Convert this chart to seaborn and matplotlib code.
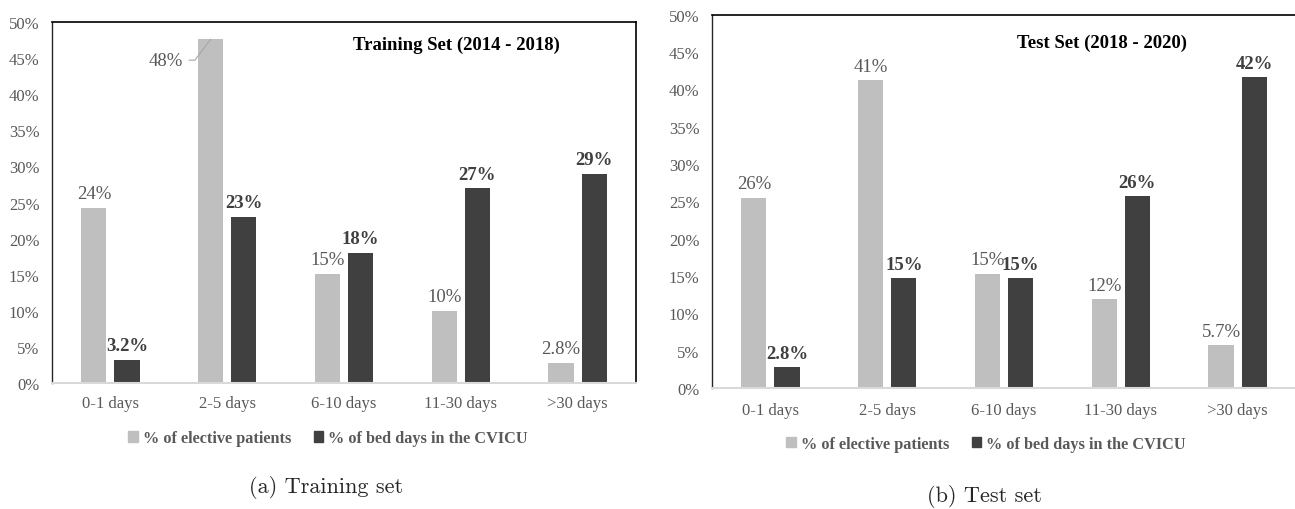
import matplotlib
matplotlib.use("Agg")
import matplotlib.pyplot as plt
import seaborn as sns
import pandas as pd
from matplotlib.patches import Patch

# ---------------- data ----------------
categories = ["0-1 days", "2-5 days", "6-10 days", "11-30 days", ">30 days"]
series_names = ["% of elective patients", "% of bed days in the CVICU"]
train_elective = [24.3, 47.6, 15.1, 10.0, 2.8]
train_beddays = [3.2, 23.0, 18.0, 27.0, 29.0]
test_elective = [25.5, 41.2, 15.3, 11.9, 5.7]
test_beddays = [2.8, 14.7, 14.7, 25.7, 41.6]
yticks = [0, 5, 10, 15, 20, 25, 30, 35, 40, 45, 50]
titles = ["Training Set (2014 - 2018)", "Test Set (2018 - 2020)"]
captions = ["(a) Training set", "(b) Test set"]

LIGHT = "#bfbfbf"
DARK = "#404040"
GRAY_TXT = "#595959"

sns.set_style("white")
plt.rcParams["font.family"] = ["Liberation Serif", "DejaVu Serif"]

fig = plt.figure(figsize=(12.95, 5.10), dpi=100)
axL = fig.add_axes([52 / 1295, (510 - 384) / 510, 584 / 1295, 361 / 510])
axR = fig.add_axes([712 / 1295, (510 - 389) / 510, 584 / 1295, 373.3 / 510])


def fmt(v):
    return f"{v:.1f}%" if v < 10 else f"{v:.0f}%"


def draw(ax, elective, beddays, title, title_xy, legend_xy, xpad, leader_idx=None):
    df = pd.DataFrame({
        "cat": categories * 2,
        "val": elective + beddays,
        "series": [series_names[0]] * len(categories) + [series_names[1]] * len(categories),
    })
    sns.barplot(data=df, x="cat", y="val", hue="series", order=categories,
                hue_order=series_names, palette=[LIGHT, DARK], width=0.567, gap=0.24,
                linewidth=0, saturation=1, legend=False, errorbar=None, ax=ax)
    ax.set_xlim(-0.5, len(categories) - 0.5)
    ax.set_ylim(0, 50)
    ax.set_yticks(yticks)
    ax.set_yticklabels([f"{t}%" for t in yticks])
    ax.set_xlabel("")
    ax.set_ylabel("")
    ax.tick_params(axis="both", length=0, labelsize=12, colors=GRAY_TXT)
    ax.tick_params(axis="y", pad=9)
    ax.tick_params(axis="x", pad=xpad)

    for s in ["top", "right"]:
        ax.spines[s].set_color("black")
        ax.spines[s].set_linewidth(1.2)
    ax.spines["left"].set_color("#262626")
    ax.spines["left"].set_linewidth(1.0)
    ax.spines["bottom"].set_color("#d9d9d9")
    ax.spines["bottom"].set_linewidth(1.5)

    c0, c1 = ax.containers[0], ax.containers[1]
    labels0 = [fmt(v) for v in elective]
    if leader_idx is not None:
        labels0[leader_idx] = ""
    ax.bar_label(c0, labels=labels0, padding=4, fontsize=13.5, color=GRAY_TXT)
    ax.bar_label(c1, labels=[fmt(v) for v in beddays], padding=4, fontsize=13.5,
                 color=DARK, fontweight="bold")
    if leader_idx is not None:
        bar = c0[leader_idx]
        bx = bar.get_x() + bar.get_width() / 2
        by = bar.get_height()
        ax.annotate(fmt(elective[leader_idx]), xy=(bx, by), xytext=(-20, -15),
                    textcoords="offset points", ha="right", va="center",
                    fontsize=13.5, color=GRAY_TXT,
                    arrowprops=dict(arrowstyle="-", color="#a6a6a6", lw=0.8,
                                    shrinkA=2, shrinkB=0, relpos=(1, 0.5),
                                    connectionstyle="angle,angleA=0,angleB=53,rad=0"))

    ax.text(title_xy[0], title_xy[1], title, transform=ax.transAxes, ha="center",
            va="center", fontsize=13.5, fontweight="bold", color="black")

    ax.legend(handles=[Patch(color=LIGHT), Patch(color=DARK)], labels=series_names,
              loc="center", bbox_to_anchor=legend_xy, ncol=2, frameon=False,
              handlelength=0.6, handleheight=0.6, handletextpad=0.3,
              columnspacing=1.4, prop={"weight": "bold", "size": 11.7},
              labelcolor=GRAY_TXT)


draw(axL, train_elective, train_beddays, titles[0], (0.693, 0.937), (0.4726, -0.153),
     xpad=9, leader_idx=1)
draw(axR, test_elective, test_beddays, titles[1], (0.668, 0.927), (0.469, -0.150),
     xpad=10)
axR.spines["right"].set_visible(False)

fig.text(326 / 1295, 1 - 488 / 510, captions[0], ha="center", va="center",
         family="cmr10", fontsize=16)
fig.text(984 / 1295, 1 - 497 / 510, captions[1], ha="center", va="center",
         family="cmr10", fontsize=16)

fig.savefig("out.png", dpi=100)
